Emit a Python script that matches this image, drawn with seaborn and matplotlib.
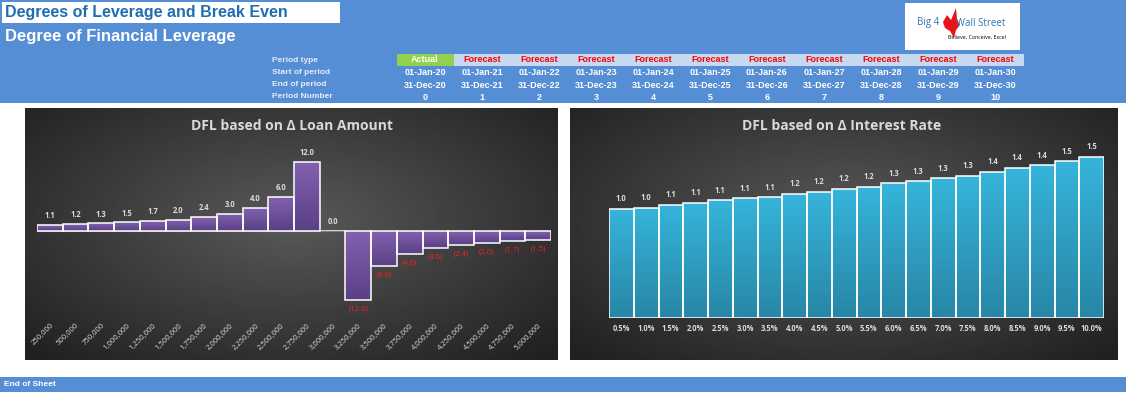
import numpy as np
import pandas as pd
import seaborn as sns
import matplotlib.pyplot as plt
from matplotlib.patches import Rectangle, Polygon
from matplotlib.colors import LinearSegmentedColormap

sns.set_style("white")
plt.rcParams['font.family'] = ['Liberation Sans', 'DejaVu Sans']

# header table
period_type = ['Actual', 'Forecast', 'Forecast', 'Forecast', 'Forecast', 'Forecast',
               'Forecast', 'Forecast', 'Forecast', 'Forecast', 'Forecast']
start_dates = ['01-Jan-20', '01-Jan-21', '01-Jan-22', '01-Jan-23', '01-Jan-24', '01-Jan-25',
               '01-Jan-26', '01-Jan-27', '01-Jan-28', '01-Jan-29', '01-Jan-30']
end_dates = ['31-Dec-20', '31-Dec-21', '31-Dec-22', '31-Dec-23', '31-Dec-24', '31-Dec-25',
             '31-Dec-26', '31-Dec-27', '31-Dec-28', '31-Dec-29', '31-Dec-30']
period_num = [0, 1, 2, 3, 4, 5, 6, 7, 8, 9, 10]

# chart 1
loan_amounts = ['250,000', '500,000', '750,000', '1,000,000', '1,250,000', '1,500,000',
                '1,750,000', '2,000,000', '2,250,000', '2,500,000', '2,750,000', '3,000,000',
                '3,250,000', '3,500,000', '3,750,000', '4,000,000', '4,250,000', '4,500,000',
                '4,750,000', '5,000,000']
dfl_loan = [1.09, 1.2, 1.33, 1.5, 1.71, 2.0, 2.4, 3.0, 4.0, 6.0, 12.0, 0.0,
            -12.0, -6.0, -4.0, -3.0, -2.4, -2.0, -1.71, -1.5]

# chart 2
rates = ['0.5%', '1.0%', '1.5%', '2.0%', '2.5%', '3.0%', '3.5%', '4.0%', '4.5%', '5.0%',
         '5.5%', '6.0%', '6.5%', '7.0%', '7.5%', '8.0%', '8.5%', '9.0%', '9.5%', '10.0%']
dfl_rate = [1.03, 1.04, 1.07, 1.09, 1.11, 1.13, 1.14, 1.17, 1.19, 1.22,
            1.24, 1.27, 1.29, 1.32, 1.34, 1.38, 1.42, 1.44, 1.48, 1.52]

W, H = 1126, 397
BLUE = '#558ED5'
LIGHT = '#D9D9D9'
chart_font = ['Open Sans', 'DejaVu Sans']


def px_axes(x, y, w, h):
    return fig.add_axes([x / W, 1 - (y + h) / H, w / W, h / H])


fig = plt.figure(figsize=(W / 100, H / 100), dpi=100)

# sheet background drawn in pixel coordinates
bg = fig.add_axes([0, 0, 1, 1])
bg.set_xlim(0, W)
bg.set_ylim(H, 0)
bg.axis('off')
bg.add_patch(Rectangle((0, 0), W, 103, color=BLUE, lw=0))
bg.add_patch(Rectangle((2, 2), 338, 21, color='white', lw=0))
bg.text(5, 12.5, 'Degrees of Leverage and Break Even', color='#1F6EB4', fontsize=11.5,
        fontweight='bold', va='center')
bg.text(5, 36, 'Degree of Financial Leverage', color='white', fontsize=12,
        fontweight='bold', va='center')
bg.add_patch(Rectangle((0, 377), W, 15, color=BLUE, lw=0))
bg.text(4, 384.5, 'End of Sheet', color='white', fontsize=6, fontweight='bold', va='center')

# logo
bg.add_patch(Rectangle((905, 3), 115, 47, color='white', lw=0))
bg.text(917, 23, 'Big 4', color='#2E75B6', fontsize=7, va='center', family=chart_font)
bg.text(956, 23, 'Wall Street', color='#2E75B6', fontsize=7, va='center', family=chart_font)
bg.text(977, 37, 'Believe, Conceive, Excel', color='black', fontsize=3.8, ha='center',
        va='center', family=chart_font)
bg.add_patch(Polygon([(943, 22), (947, 15), (951, 20), (956, 8), (957, 19), (960, 25),
                      (956, 30), (954, 38), (950, 31), (945, 28)], color='#E8141C', lw=0))

# period table
row_y = [60, 72, 85, 97]
row_names = ['Period type', 'Start of period', 'End of period', 'Period Number']
for yy, name in zip(row_y, row_names):
    bg.text(272, yy, name, color='#E4ECF7', fontsize=6, fontweight='bold', va='center')
col_w = 57
for i in range(len(period_num)):
    cx = 425 + i * col_w
    fc = '#92D050' if period_type[i] == 'Actual' else '#C6D9F1'
    bg.add_patch(Rectangle((cx - col_w / 2, 54), col_w, 12, color=fc, lw=0))
    tc = 'white' if period_type[i] == 'Actual' else '#FF0000'
    bg.text(cx, 60, period_type[i], color=tc, fontsize=6.5, fontweight='bold', ha='center', va='center')
    bg.text(cx, 72.5, start_dates[i], color='white', fontsize=6.5, fontweight='bold', ha='center', va='center')
    bg.text(cx, 85, end_dates[i], color='white', fontsize=6.5, fontweight='bold', ha='center', va='center')
    bg.text(cx, 97.5, str(period_num[i]), color='white', fontsize=6.5, fontweight='bold', ha='center', va='center')


def panel(x, y, w, h):
    ax = px_axes(x, y, w, h)
    yy, xx = np.mgrid[0:1:200j, 0:1:300j]
    r = np.sqrt(((xx - 0.5) / 0.75) ** 2 + ((yy - 0.45) / 0.8) ** 2)
    img = np.clip(0.35 - 0.24 * r, 0.13, 1)
    ax.imshow(img, cmap='gray', vmin=0, vmax=1, extent=[0, 1, 0, 1], aspect='auto')
    ax.axis('off')
    return ax


def gradient_bars(ax, top, bottom):
    cmap = LinearSegmentedColormap.from_list('g', [bottom, top])
    grad = np.linspace(1, 0, 100)[:, None]
    for p in ax.patches:
        x0, w = p.get_x(), p.get_width()
        y0, h = p.get_y(), p.get_height()
        lo, hi = min(y0, y0 + h), max(y0, y0 + h)
        if hi - lo <= 0:
            continue
        im = ax.imshow(grad, cmap=cmap, vmin=0, vmax=1, extent=[x0, x0 + w, lo, hi],
                       aspect='auto', zorder=2)
        im.set_clip_path(p)
        p.set_facecolor('none')
        p.set_zorder(3)


# ---- left chart
panel(25, 108, 533, 252)
ax1 = px_axes(37, 140, 514, 178)
df1 = pd.DataFrame({'loan': loan_amounts, 'dfl': dfl_loan})
sns.barplot(data=df1, x='loan', y='dfl', ax=ax1, width=1, color='#7356A3',
            edgecolor='white', linewidth=1.1)
gradient_bars(ax1, '#8262B0', '#5A3F86')
ax1.axhline(0, color='#808080', lw=0.8, zorder=1)
for i, v in enumerate(dfl_loan):
    if v < 0:
        ax1.annotate(f'({abs(v):.1f})', (i, v), xytext=(0, -4), textcoords='offset points',
                     ha='center', va='top', color='#FF1E1E', fontsize=5.5, family=chart_font)
    else:
        ax1.annotate(f'{v:.1f}', (i, v), xytext=(0, 3.5), textcoords='offset points',
                     ha='center', va='bottom', color=LIGHT, fontsize=5.5, fontweight='bold',
                     family=chart_font)
ax1.set_xlim(-0.5, len(dfl_loan) - 0.5)
ax1.set_ylim(-15.13, 15.83)
ax1.set_yticks([])
ax1.set_xlabel('')
ax1.set_ylabel('')
ax1.tick_params(axis='x', length=0, pad=3, colors=LIGHT)
for t in ax1.get_xticklabels():
    t.set_rotation(45)
    t.set_ha('right')
    t.set_rotation_mode('anchor')
    t.set_fontsize(5.5)
    t.set_family(chart_font)
ax1.patch.set_visible(False)
sns.despine(ax=ax1, left=True, bottom=True)
fig.text(292 / W, 1 - 126 / H, 'DFL based on Δ Loan Amount', color=LIGHT, fontsize=10,
         fontweight='bold', ha='center', va='center', family=chart_font)

# ---- right chart
panel(570, 108, 548, 252)
ax2 = px_axes(609, 140, 495, 178)
df2 = pd.DataFrame({'rate': rates, 'dfl': dfl_rate})
sns.barplot(data=df2, x='rate', y='dfl', ax=ax2, width=1, color='#31A8CE',
            edgecolor='white', linewidth=1.1)
gradient_bars(ax2, '#36B4DB', '#2886A6')
for i, v in enumerate(dfl_rate):
    ax2.annotate(f'{v:.1f}', (i, v), xytext=(0, 4), textcoords='offset points',
                 ha='center', va='bottom', color=LIGHT, fontsize=5.5, fontweight='bold',
                 family=chart_font)
ax2.set_xlim(-0.5, len(dfl_rate) - 0.5)
ax2.set_ylim(0, 1.68)
ax2.set_yticks([])
ax2.set_xlabel('')
ax2.set_ylabel('')
ax2.tick_params(axis='x', length=0, pad=4.5, colors=LIGHT, labelsize=5.5)
for t in ax2.get_xticklabels():
    t.set_family(chart_font)
    t.set_fontweight('bold')
ax2.patch.set_visible(False)
sns.despine(ax=ax2, left=True, bottom=True)
fig.text(842 / W, 1 - 126 / H, 'DFL based on Δ Interest Rate', color=LIGHT, fontsize=10,
         fontweight='bold', ha='center', va='center', family=chart_font)

fig.savefig('out.png', dpi=100)
